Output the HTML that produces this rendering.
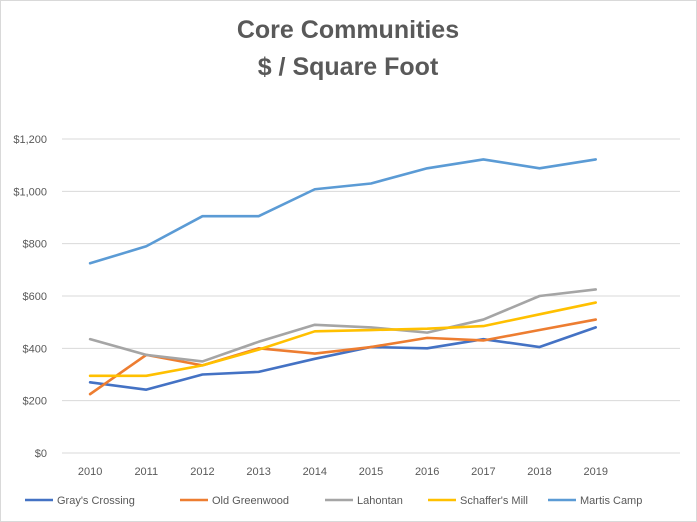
<!DOCTYPE html>
<html><head><meta charset="utf-8"><style>
html,body{margin:0;padding:0;background:#fff;}
svg{display:block;font-family:"Liberation Sans",sans-serif;}
</style></head><body>
<svg id="chart" width="697" height="522">
<rect x="0.5" y="0.5" width="696" height="521" fill="#fff" stroke="#d9d9d9"/>
<text x="348" y="38" text-anchor="middle" font-size="25" font-weight="bold" fill="#595959">Core Communities</text>
<text x="348" y="75" text-anchor="middle" font-size="25" font-weight="bold" fill="#595959">$ / Square Foot</text>
<g id="grid"></g><g id="lines"></g><g id="legend"></g>
</svg>
<script>
const years=["2010","2011","2012","2013","2014","2015","2016","2017","2018","2019"];
const yTicks=[0,200,400,600,800,1000,1200];
const grays=[270,242,300,310,360,405,400,435,405,480];
const oldGreenwood=[225,375,335,400,380,405,440,430,470,510];
const lahontan=[435,375,350,425,490,480,460,510,600,625];
const schaffers=[295,295,335,395,465,470,475,485,530,575];
const martis=[725,790,905,905,1008,1030,1088,1122,1088,1122];
const names=["Gray's Crossing","Old Greenwood","Lahontan","Schaffer's Mill","Martis Camp"];
const colors=["#4472c4","#ed7d31","#a5a5a5","#ffc000","#5b9bd5"];
const series=[grays,oldGreenwood,lahontan,schaffers,martis];
const NS="http://www.w3.org/2000/svg";
const x0=62,x1=680,nCat=11,y0=453,y1=139,yMax=1200;
const xs=i=>x0+(x1-x0)/nCat*(i+0.5);
const ys=v=>y0-(y0-y1)*v/yMax;
function mk(t,a,p){const e=document.createElementNS(NS,t);for(const k in a)e.setAttribute(k,a[k]);p.appendChild(e);return e;}
const g=document.getElementById('grid');
yTicks.forEach(v=>{
 const l=mk('line',{x1:x0,x2:x1,y1:ys(v),y2:ys(v),stroke:'#d9d9d9','stroke-width':1},g);
 
 
 const t=mk('text',{x:47,y:ys(v)+4,'text-anchor':'end','font-size':11,fill:'#595959'},g);
 t.textContent='$'+v.toLocaleString('en-US');
 
 
});
years.forEach((y,i)=>{
 const t=mk('text',{x:xs(i),y:475,'text-anchor':'middle','font-size':11,fill:'#595959'},g);
 t.textContent=y;
 
 
});
const L=document.getElementById('lines');
series.forEach((s,k)=>{
 const p=mk('polyline',{points:s.map((v,i)=>xs(i)+','+ys(v)).join(' '),fill:'none',stroke:colors[k],'stroke-width':2.6,'stroke-linejoin':'round','stroke-linecap':'round'},L);
 
 
});
const G=document.getElementById('legend');
const lx=[25,180,325,428,548];
names.forEach((n,k)=>{
 const l=mk('line',{x1:lx[k],x2:lx[k]+28,y1:500,y2:500,stroke:colors[k],'stroke-width':2.6},G);
 
 
 const t=mk('text',{x:lx[k]+32,y:504,'font-size':11,fill:'#595959'},G);
 t.textContent=n;
 
 
});
</script>
</body></html>
